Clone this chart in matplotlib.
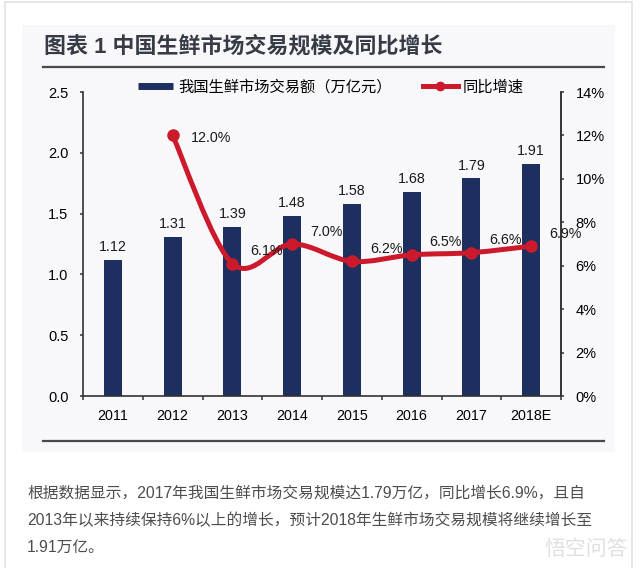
import numpy as np
import matplotlib
matplotlib.use("Agg")
import matplotlib.pyplot as plt
from matplotlib.patches import Rectangle, PathPatch
from matplotlib.lines import Line2D
from matplotlib.path import Path
from matplotlib.ticker import FixedLocator, FuncFormatter

plt.rcParams['font.family'] = ['Liberation Sans', 'Noto Sans CJK SC']

# data
years = ['2011', '2012', '2013', '2014', '2015', '2016', '2017', '2018E']
market_size = [1.12, 1.31, 1.39, 1.48, 1.58, 1.68, 1.79, 1.91]   # 万亿元
yoy_years = ['2012', '2013', '2014', '2015', '2016', '2017', '2018E']
yoy_growth = [12.0, 6.1, 7.0, 6.2, 6.5, 6.6, 6.9]                   # %

title = '图表 1 中国生鲜市场交易规模及同比增长'
bar_name = '我国生鲜市场交易额（万亿元）'
line_name = '同比增速'
caption = ['根据数据显示，2017年我国生鲜市场交易规模达1.79万亿，同比增长6.9%，且自',
           '2013年以来持续保持6%以上的增长，预计2018年生鲜市场交易规模将继续增长至',
           '1.91万亿。']

navy = '#1d2f5f'
red = '#cc1a2c'
W, H = 640, 568

fig = plt.figure(figsize=(6.4, 5.68), dpi=100)

# card + panel background
fig.patches.append(Rectangle((5 / W, -0.02), 627 / W, 1.02 - 2 / H, transform=fig.transFigure,
                             facecolor='white', edgecolor='#e2e2e2', lw=1.2, zorder=-3))
fig.patches.append(Rectangle((22 / W, 1 - 452 / H), 593 / W, 427 / H, transform=fig.transFigure,
                             facecolor='#f8f8fa', edgecolor='none', zorder=-2))

fig.text(44 / W, 1 - 47 / H, title, fontsize=15.8, weight='bold', color='#363b46',
         ha='left', va='center')
for yy in (67, 441):
    fig.add_artist(Line2D([43 / W, 604 / W], [1 - yy / H] * 2, color='#4a4a4a', lw=1.6))

ax = fig.add_axes([83 / W, 1 - 396 / H, 478 / W, 304 / H])
ax.patch.set_alpha(0)
x = np.arange(len(years))
ax.bar(x, market_size, width=0.3, color=navy, zorder=2)
for xi, v in zip(x, market_size):
    ax.annotate(f'{v:.2f}', (xi, v), xytext=(0, 4), textcoords='offset points',
                ha='center', va='bottom', fontsize=10.3, color='#1a1a1a')

ax.set_xlim(-0.5, len(years) - 0.5)
ax.set_ylim(0, 2.5)
ax.set_yticks(np.arange(0, 2.51, 0.5))
ax.yaxis.set_major_formatter(FuncFormatter(lambda v, p: f'{v:.1f}'))
ax.set_xticks(x)
ax.set_xticklabels(years)
ax.xaxis.set_minor_locator(FixedLocator(np.arange(-0.5, len(years), 1.0)))
ax.tick_params(axis='x', which='major', length=0, pad=9, labelsize=10.3)
ax.tick_params(axis='x', which='minor', length=3, width=1.1, color='#333333', direction='out')
ax.tick_params(axis='y', length=2.5, width=1.1, color='#333333', pad=8, labelsize=10.5)
ax.spines['top'].set_visible(False)
for s in ('left', 'bottom', 'right'):
    ax.spines[s].set_color('#333333')
    ax.spines[s].set_linewidth(1.2)

ax2 = ax.twinx()
ax2.set_ylim(0, 14)
ax2.set_yticks(np.arange(0, 14.1, 2))
ax2.yaxis.set_major_formatter(FuncFormatter(lambda v, p: f'{v:.0f}%'))
ax2.tick_params(axis='y', length=2.5, width=1.1, color='#333333', pad=8, labelsize=10.5)
ax2.spines['top'].set_visible(False)
ax2.spines['left'].set_visible(False)
ax2.spines['bottom'].set_visible(False)
ax2.spines['right'].set_color('#333333')
ax2.spines['right'].set_linewidth(1.2)

# smoothed line (bezier through the points, like the spreadsheet original)
lx = np.array([years.index(y) for y in yoy_years], dtype=float)
pts = np.column_stack([lx, yoy_growth])
verts = [pts[0]]
codes = [Path.MOVETO]
n = len(pts)
for i in range(n - 1):
    p0 = pts[i - 1] if i > 0 else pts[i]
    p1, p2 = pts[i], pts[i + 1]
    p3 = pts[i + 2] if i + 2 < n else pts[i + 1]
    verts += [p1 + (p2 - p0) / 6, p2 - (p3 - p1) / 6, p2]
    codes += [Path.CURVE4] * 3
ax2.add_patch(PathPatch(Path(verts, codes), fill=False, edgecolor=red, lw=3.6,
                        capstyle='round', zorder=3))
ax2.plot(lx, yoy_growth, 'o', color=red, ms=8, zorder=4)
for i, (xi, v) in enumerate(zip(lx, yoy_growth)):
    dy = -1.5 if i == 0 else 9
    ax2.annotate(f'{v:.1f}%', (xi, v), xytext=(13, dy), textcoords='offset points',
                 ha='left', va='center', fontsize=10.3, color='#1a1a1a', zorder=5)

handles = [Line2D([], [], color=navy, lw=5, solid_capstyle='butt'),
           Line2D([], [], color=red, lw=3.6, marker='o', ms=6)]
fig.legend(handles, [bar_name, line_name], loc='center', bbox_to_anchor=(331 / W, 1 - 87 / H),
           ncol=2, frameon=False, fontsize=11, handlelength=2.3, handletextpad=0.35,
           columnspacing=2.0)

for k, line in enumerate(caption):
    fig.text(27 / W, 1 - (493 + 27 * k) / H, line, fontsize=11.3, color='#4d4d4d',
             ha='left', va='center')

fig.text(628 / W, 1 - 549 / H, '悟空问答', fontsize=15, color='#e0e0e0', ha='right', va='center')

fig.savefig('out.png', dpi=100)
